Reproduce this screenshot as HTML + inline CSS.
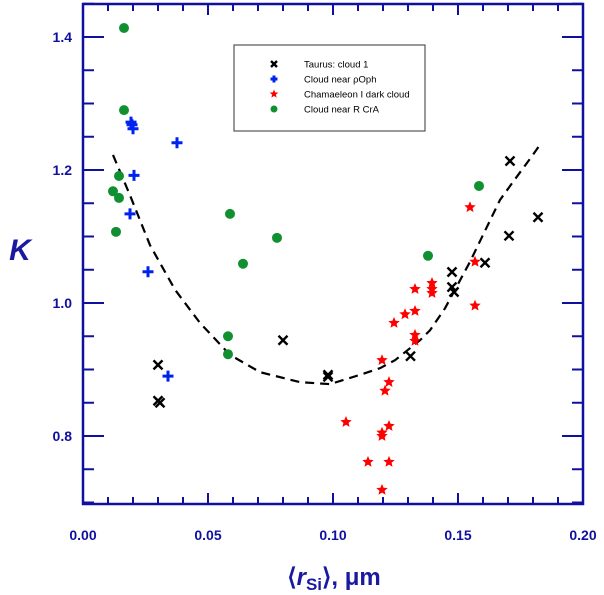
<!DOCTYPE html>
<html><head><meta charset="utf-8"><style>
body{margin:0;background:#fff;}
svg{display:block;font-family:"Liberation Sans",sans-serif;}
</style></head><body>
<svg id="chart" width="604" height="595" viewBox="0 0 604 595" xmlns="http://www.w3.org/2000/svg">
<g id="axes"></g><g id="marks"></g>
<g>
<rect x="234" y="45" width="191" height="86" fill="#fff" stroke="#555" stroke-width="1.2"/>
<g id="legend-items"></g>
</g>
<text x="20" y="260" font-size="30" font-weight="bold" font-style="italic" fill="#1a1aa0" text-anchor="middle">K</text>
<text x="334" y="585" font-size="24" font-weight="bold" fill="#1a1aa0" text-anchor="middle">⟨<tspan font-style="italic">r</tspan><tspan font-size="17" dy="5">Si</tspan><tspan dy="-5">⟩, μm</tspan></text>
</svg>
<script>
const taurusX=[0.1708,0.182,0.1704,0.1608,0.1476,0.1476,0.1484,0.131,0.098,0.098,0.030,0.0308,0.030,0.080];
const taurusY=[1.2135,1.129,1.101,1.0605,1.0466,1.024,1.0165,0.920,0.889,0.892,0.907,0.850,0.853,0.944];
const ophX=[0.0192,0.0196,0.020,0.0376,0.0204,0.0188,0.026,0.034];
const ophY=[1.272,1.268,1.262,1.241,1.192,1.134,1.047,0.890];
const chamX=[0.1548,0.1568,0.1568,0.1328,0.1396,0.1396,0.1396,0.1328,0.1288,0.1244,0.1328,0.1328,0.1196,0.1224,0.1208,0.1052,0.1224,0.1196,0.1196,0.114,0.1224,0.1196];
const chamY=[1.144,1.062,0.996,1.021,1.030,1.021,1.015,0.988,0.983,0.970,0.952,0.943,0.914,0.881,0.868,0.821,0.815,0.805,0.800,0.761,0.761,0.719];
const crAX=[0.0164,0.0164,0.0144,0.012,0.0144,0.0132,0.0588,0.0776,0.064,0.058,0.058,0.138,0.1584];
const crAY=[1.4135,1.290,1.191,1.168,1.158,1.107,1.134,1.098,1.059,0.950,0.923,1.071,1.176];
const fitX=[0.012,0.0188,0.0268,0.0368,0.0468,0.0588,0.0708,0.0868,0.0988,0.1108,0.1188,0.1248,0.1348,0.1388,0.1448,0.1548,0.1668,0.1716,0.18,0.1828];
const fitY=[1.2226,1.162,1.087,1.020,0.970,0.922,0.896,0.881,0.878,0.892,0.902,0.914,0.944,0.959,0.992,1.062,1.155,1.18,1.223,1.238];
const xTicks=[0,0.05,0.10,0.15,0.20];
const xTickLabels=["0.00","0.05","0.10","0.15","0.20"];
const yTicks=[0.8,1.0,1.2,1.4];
const yTickLabels=["0.8","1.0","1.2","1.4"];

const L=83,R=583,T=4,B=504;
const sx=v=>L+v*2500;
const sy=v=>37+(1.4-v)*665;
const NS="http://www.w3.org/2000/svg";
const AX="#1010a0";
function mk(tag,attrs,parent){const e=document.createElementNS(NS,tag);for(const k in attrs)e.setAttribute(k,attrs[k]);parent.appendChild(e);return e;}
const axes=document.getElementById('axes'),marks=document.getElementById('marks');
const frame=mk('rect',{x:L,y:T,width:R-L,height:B-T,fill:'none',stroke:AX,'stroke-width':2.5},axes);


for(let i=0;i<=20;i++){const v=i*0.01,x=sx(v),len=(i%5===0)?11:7;
 mk('line',{x1:x,y1:B,x2:x,y2:B-len,stroke:AX,'stroke-width':2},axes);
 mk('line',{x1:x,y1:T,x2:x,y2:T+len,stroke:AX,'stroke-width':2},axes);}
for(let i=0;i<=15;i++){const v=0.7+i*0.05;if(v>1.451)break;const y=sy(v),len=(Math.abs(v*5-Math.round(v*5))<1e-6)?21:11;
 mk('line',{x1:L,y1:y,x2:L+len,y2:y,stroke:AX,'stroke-width':2},axes);
 mk('line',{x1:R,y1:y,x2:R-len,y2:y,stroke:AX,'stroke-width':2},axes);}
xTicks.forEach((v,i)=>{const t=mk('text',{x:sx(v),y:540,'font-size':14,'font-weight':'bold',fill:AX,'text-anchor':'middle'},axes);t.textContent=xTickLabels[i];
 
 });
yTicks.forEach((v,i)=>{const t=mk('text',{x:72,y:sy(v)+5,'font-size':14,'font-weight':'bold',fill:AX,'text-anchor':'end'},axes);t.textContent=yTickLabels[i];
 
 });
const fit=mk('polyline',{points:fitX.map((x,i)=>sx(x)+','+sy(fitY[i])).join(' '),fill:'none',stroke:'#000','stroke-width':2.2,'stroke-dasharray':'9,6'},marks);


function cross(g,x,y,s){mk('path',{d:`M${x-s},${y-s}L${x+s},${y+s}M${x-s},${y+s}L${x+s},${y-s}`,stroke:'#000','stroke-width':2.4},g);}
function plus(g,x,y,s){mk('path',{d:`M${x-s},${y}L${x+s},${y}M${x},${y-s}L${x},${y+s}`,stroke:'#0022ee','stroke-width':3},g);}
function star(g,x,y,s){let p=[];for(let k=0;k<10;k++){const r=k%2?s*0.45:s,a=-Math.PI/2+k*Math.PI/5;p.push((x+r*Math.cos(a)).toFixed(1)+','+(y+r*Math.sin(a)).toFixed(1));}mk('polygon',{points:p.join(' '),fill:'#ff0000'},g);}
function dot(g,x,y,s){mk('circle',{cx:x,cy:y,r:s,fill:'#109030'},g);}
function series(xs,ys,fn,s,name){xs.forEach((v,i)=>{const g=mk('g',{},marks);
 
 
 fn(g,sx(v),sy(ys[i]),s);});}
series(taurusX,taurusY,cross,4.5,'taurus-point');
series(ophX,ophY,plus,5.5,'oph-point');
series(chamX,chamY,star,6,'chamaeleon-point');
series(crAX,crAY,dot,5,'cra-point');
const leg=document.getElementById('legend-items');
const items=[["Taurus: cloud 1",cross,3],["Cloud near ρOph",plus,3.5],["Chamaeleon I dark cloud",star,4.5],["Cloud near R CrA",dot,3.5]];
items.forEach((it,i)=>{const y=64+i*15;const g=mk('g',{},leg);
 
 
 it[1](g,274,y,it[2]);const t=mk('text',{x:304,y:y+3.5,'font-size':9.5,fill:'#000'},g);t.textContent=it[0];});
</script>
</body></html>
